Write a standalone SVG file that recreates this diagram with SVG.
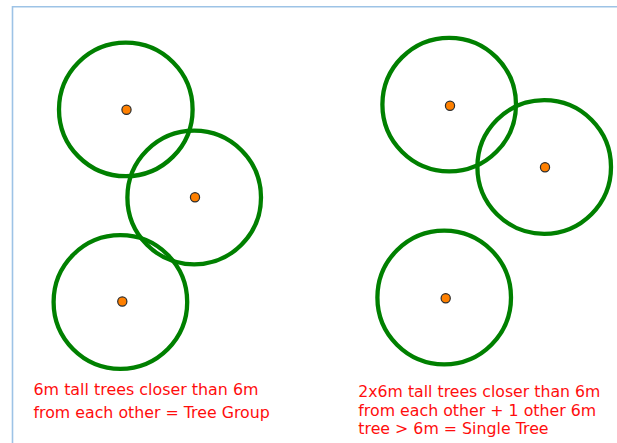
<svg xmlns="http://www.w3.org/2000/svg" width="617" height="443" viewBox="0 0 617 443">
  <style>
    .crown { fill: none; stroke: #008000; stroke-width: 4.3; }
    .trunk { fill: #ff8000; stroke: #2b2b2b; stroke-width: 1.2; }
    .frame { fill: none; stroke: #9dc3e6; stroke-width: 1.6; }
    .note { font-family: "DejaVu Sans", Verdana, sans-serif; font-size: 15.8px; fill: #ff0d0d; }
  </style>
  <rect width="617" height="443" fill="#ffffff"/>
  <!-- page frame: left and top rules -->
  <path class="frame" d="M12.5 443 V6.8 H617"/>

  <!-- left scene: three trees forming a group -->
  <g id="tree-a1">
    <circle class="crown" cx="125.8" cy="109.4" r="66.8"/>
    <circle class="trunk" cx="126.5" cy="109.8" r="4.6"/>
  </g>
  <g id="tree-a2">
    <circle class="crown" cx="194.2" cy="197.5" r="66.8"/>
    <circle class="trunk" cx="195" cy="197.3" r="4.6"/>
  </g>
  <g id="tree-a3">
    <circle class="crown" cx="120.4" cy="302" r="66.8"/>
    <circle class="trunk" cx="122.3" cy="301.5" r="4.6"/>
  </g>

  <!-- right scene: two overlapping trees plus one isolated tree -->
  <g id="tree-b1">
    <circle class="crown" cx="449.2" cy="104.6" r="66.8"/>
    <circle class="trunk" cx="450" cy="105.8" r="4.6"/>
  </g>
  <g id="tree-b2">
    <circle class="crown" cx="544.2" cy="167" r="66.8"/>
    <circle class="trunk" cx="545" cy="167.2" r="4.6"/>
  </g>
  <g id="tree-b3">
    <circle class="crown" cx="444.2" cy="297.5" r="66.8"/>
    <circle class="trunk" cx="445.7" cy="298.2" r="4.6"/>
  </g>

  <g id="connectors"/>

  <!-- captions -->
  <g id="caption-left" class="note">
    <text x="33.5" y="395" textLength="225" lengthAdjust="spacingAndGlyphs">6m tall trees closer than 6m</text>
    <text x="33.5" y="418">from each other = Tree Group</text>
  </g>
  <g id="caption-right" class="note">
    <text x="358.3" y="397.3" textLength="242" lengthAdjust="spacingAndGlyphs">2x6m tall trees closer than 6m</text>
    <text x="358.3" y="415.5">from each other + 1 other 6m</text>
    <text x="358.3" y="433.7">tree &gt; 6m = Single Tree</text>
  </g>
</svg>
